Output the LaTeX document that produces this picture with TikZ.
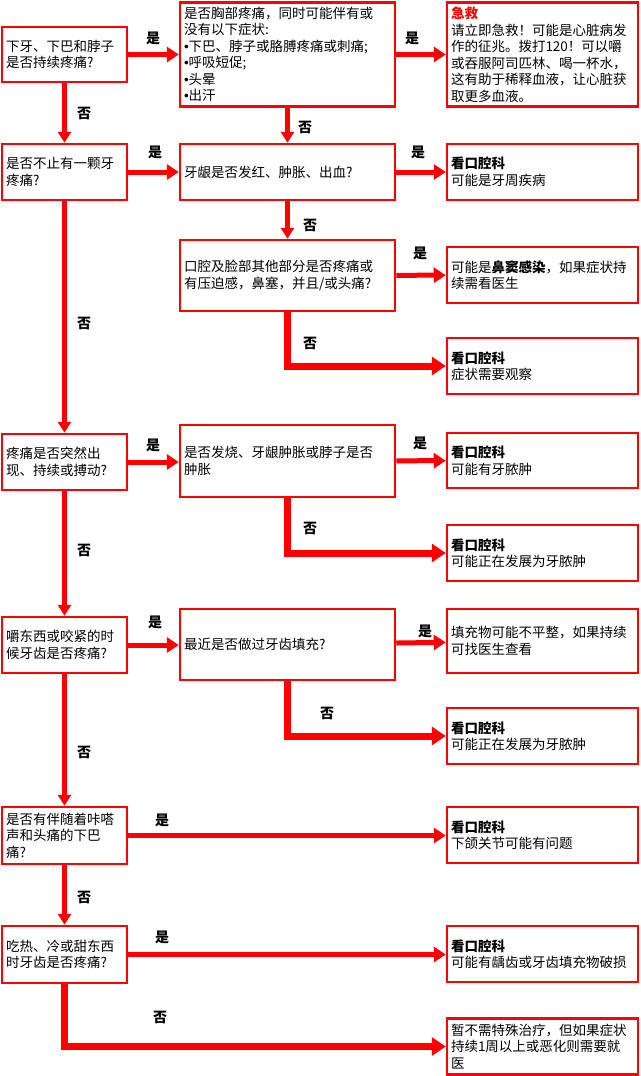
\documentclass[tikz,border=0pt]{standalone}
\usepackage{fontspec}
\setmainfont{Noto Sans CJK SC}
\newfontfamily\bulfont{Liberation Sans}
\newcommand{\bul}{{\bulfont\textbullet}}
\usetikzlibrary{arrows.meta}
\tikzset{
 box/.style={draw=red, line width=2.5pt, rectangle, inner xsep=4pt, inner ysep=0pt, align=left, font=\fontsize{13.5pt}{16.5pt}\selectfont},
 colq/.style={box, minimum width=125pt, text width=117pt},
 colb/.style={box, minimum width=215pt, text width=207pt},
 colc/.style={box, minimum width=191pt, text width=183pt},
 arr/.style={draw=red, line width=5pt, -{Triangle[length=12pt,width=15pt]}},
 varr/.style={draw=red, line width=4.5pt, -{Triangle[length=11pt,width=13pt]}},
 noarr/.style={draw=red, line width=7pt, -{Triangle[length=14pt,width=18pt]}},
 lbl/.style={font=\bfseries\fontsize{14pt}{14pt}\selectfont, inner sep=0pt},
}
\begin{document}
\begin{tikzpicture}[x=1pt,y=-1pt]
\useasboundingbox (0,0) rectangle (640,1076);
% column 1
\node[colq, minimum height=55pt] (q1) at (64.5,54.5) {下牙、下巴和脖子\\是否持续疼痛?};
\node[colq, minimum height=56pt] (q2) at (64.5,172) {是否不止有一颗牙\\疼痛?};
\node[colq, minimum height=56pt] (q3) at (64.5,462) {疼痛是否突然出\\现、持续或搏动?};
\node[colq, minimum height=56pt] (q4) at (64.5,645) {嚼东西或咬紧的时\\候牙齿是否疼痛?};
\node[colq, minimum height=57pt] (q5) at (64.5,835.5) {是否有伴随着咔嗒\\声和头痛的下巴\\痛?};
\node[colq, minimum height=57pt] (q6) at (64.5,954.5) {吃热、冷或甜东西\\时牙齿是否疼痛?};
% column 2
\node[colb, minimum height=104pt] (b1) at (287.5,54.5) {是否胸部疼痛，同时可能伴有或\\没有以下症状:\\\bul 下巴、脖子或胳膊疼痛或刺痛;\\\bul 呼吸短促;\\\bul 头晕\\\bul 出汗};
\node[colb, minimum height=56pt] (b2) at (287.5,172) {牙龈是否发红、肿胀、出血?};
\node[colb, minimum height=71pt] (b3) at (287.5,275.5) {口腔及脸部其他部分是否疼痛或\\有压迫感，鼻塞，并且/或头痛?};
\node[colb, minimum height=72pt] (b4) at (287.5,461) {是否发烧、牙龈肿胀或脖子是否\\肿胀};
\node[colb, minimum height=71pt] (b5) at (287.5,644.5) {最近是否做过牙齿填充?};
% column 3
\node[colc, minimum height=104pt] (c1) at (542.5,54.5) {\textbf{\textcolor{red}{急救}}\\请立即急救！可能是心脏病发\\作的征兆。拨打120！可以嚼\\或吞服阿司匹林、喝一杯水，\\这有助于稀释血液，让心脏获\\取更多血液。};
\node[colc, minimum height=56pt] (c2) at (542.5,172) {\textbf{看口腔科}\\可能是牙周疾病};
\node[colc, minimum height=56pt] (c3) at (542.5,275) {可能是\textbf{鼻窦感染}，如果症状持\\续需看医生};
\node[colc, minimum height=56pt] (c4) at (542.5,366) {\textbf{看口腔科}\\症状需要观察};
\node[colc, minimum height=55pt] (c5) at (542.5,460.5) {\textbf{看口腔科}\\可能有牙脓肿};
\node[colc, minimum height=56pt] (c6) at (542.5,553) {\textbf{看口腔科}\\可能正在发展为牙脓肿};
\node[colc, minimum height=64pt] (c7) at (542.5,641) {填充物可能不平整，如果持续\\可找医生查看};
\node[colc, minimum height=56pt] (c8) at (542.5,736) {\textbf{看口腔科}\\可能正在发展为牙脓肿};
\node[colc, minimum height=56pt] (c9) at (542.5,835) {\textbf{看口腔科}\\下颌关节可能有问题};
\node[colc, minimum height=56pt] (c10) at (542.5,954) {\textbf{看口腔科}\\可能有龋齿或牙齿填充物破损};
\node[colc, minimum height=56pt] (c11) at (542.5,1046.5) {暂不需特殊治疗，但如果症状\\持续1周以上或恶化则需要就\\医};
% connectors
\draw[arr] (q1) -- (b1);
\draw[arr] (b1.east |- q1) -- (c1.west |- q1);
\draw[varr] (q1) -- (q2);
\draw[varr] (b1) -- (b2);
\draw[arr] (q2) -- (b2);
\draw[arr] (b2) -- (c2);
\draw[varr] (b2) -- (b3);
\draw[arr] (b3) -- (c3);
\draw[noarr] (b3.south) |- (c4.west);
\draw[varr] (q2) -- (q3);
\draw[arr] (q3) -- (b4.west |- q3);
\draw[arr] (b4) -- (c5);
\draw[noarr] (b4.south) |- (c6.west);
\draw[varr] (q3) -- (q4);
\draw[arr] (q4) -- (b5.west |- q4);
\draw[arr] (b5) -- (c7);
\draw[noarr] (b5.south) |- (c8.west);
\draw[varr] (q4) -- (q5);
\draw[arr] (q5) -- (c9.west |- q5);
\draw[varr] (q5) -- (q6);
\draw[arr] (q6) -- (c10.west |- q6);
\draw[noarr] (q6.south) |- (c11.west);
% labels
\node[lbl] (l1) at (153,38) {是};
\node[lbl] (l2) at (412,38) {是};
\node[lbl] (l3) at (84,113) {否};
\node[lbl] (l4) at (305,127) {否};
\node[lbl] (l5) at (155,152) {是};
\node[lbl] (l6) at (418,152) {是};
\node[lbl] (l7) at (310,225) {否};
\node[lbl] (l8) at (420,253) {是};
\node[lbl] (l9) at (310,343) {否};
\node[lbl] (l10) at (84,323) {否};
\node[lbl] (l11) at (153,445) {是};
\node[lbl] (l12) at (420,443) {是};
\node[lbl] (l13) at (310,528) {否};
\node[lbl] (l14) at (84,550) {否};
\node[lbl] (l15) at (155,622) {是};
\node[lbl] (l16) at (425,631) {是};
\node[lbl] (l17) at (327,713) {否};
\node[lbl] (l18) at (84,752) {否};
\node[lbl] (l19) at (162,820) {是};
\node[lbl] (l20) at (84,897) {否};
\node[lbl] (l21) at (162,937) {是};
\node[lbl] (l22) at (160,1017) {否};
\end{tikzpicture}
\end{document}
